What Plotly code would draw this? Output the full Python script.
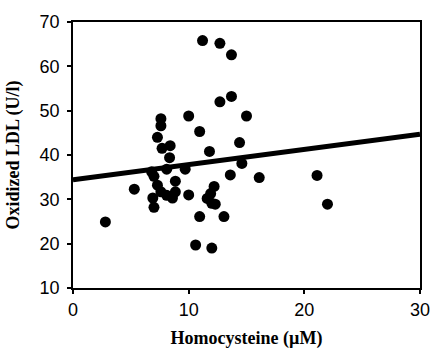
import plotly.graph_objects as go

homocysteine = [2.8, 5.3, 6.9, 7.0, 6.8, 7.0, 7.3, 7.6, 8.1, 8.85, 8.6, 8.85, 8.1, 9.7, 10.0,
                7.3, 7.6, 7.6, 7.7, 8.4, 8.35, 10.0, 10.95, 11.8, 11.2, 12.7, 13.7, 12.7, 13.7,
                15.0, 14.4, 14.6, 13.6, 16.1, 21.1, 22.0, 10.95, 13.05, 10.6, 12.0, 12.2, 11.9,
                11.6, 12.0, 12.3]
oxidized_ldl = [24.9, 32.3, 30.3, 28.2, 36.2, 35.2, 33.2, 31.7, 30.9, 31.7, 30.3, 34.1, 36.8, 36.8, 31.0,
                44.0, 48.2, 46.6, 41.5, 42.1, 39.4, 48.8, 45.3, 40.8, 65.8, 65.2, 62.6, 52.0, 53.2,
                48.8, 42.8, 38.1, 35.5, 34.9, 35.4, 28.9, 26.1, 26.1, 19.7, 19.0, 32.9, 31.3,
                30.2, 29.1, 28.9]

fit_x = [0, 30]
fit_y = [34.4, 44.7]

x_ticks = [0, 10, 20, 30]
y_ticks = [10, 20, 30, 40, 50, 60, 70]

fig = go.Figure()
fig.add_trace(go.Scatter(x=fit_x, y=fit_y, mode="lines",
                         line=dict(color="black", width=5), showlegend=False, hoverinfo="skip"))
fig.add_trace(go.Scatter(x=homocysteine, y=oxidized_ldl, mode="markers",
                         marker=dict(color="black", size=11, line=dict(width=0)), showlegend=False))

axis_common = dict(showgrid=False, zeroline=False, showline=True, linecolor="black", linewidth=1.5,
                   mirror=True, ticks="outside", ticklen=4, tickwidth=1.5, tickcolor="black",
                   tickfont=dict(family="Liberation Sans, Arial, sans-serif", size=18, color="black"))

fig.update_xaxes(range=[0, 30], tickvals=x_ticks, ticktext=[str(v) for v in x_ticks],
                 ticklabelstandoff=1,
                 title=dict(text="<b>Homocysteine (µM)</b>",
                            font=dict(family="Liberation Serif, Times New Roman, serif", size=18, color="black"),
                            standoff=12),
                 **axis_common)
fig.update_yaxes(range=[10, 70], tickvals=y_ticks, ticktext=[str(v) for v in y_ticks],
                 ticklabelstandoff=4,
                 title=dict(text="<b>Oxidized LDL (U/l)</b>",
                            font=dict(family="Liberation Serif, Times New Roman, serif", size=18, color="black"),
                            standoff=15),
                 **axis_common)

fig.update_layout(width=442, height=357, margin=dict(l=73, r=12, t=19, b=60),
                  paper_bgcolor="white", plot_bgcolor="white")

fig.write_html("out.html", config={"displayModeBar": False},
               post_script="document.body.style.margin='0';document.body.style.overflow='hidden';")
